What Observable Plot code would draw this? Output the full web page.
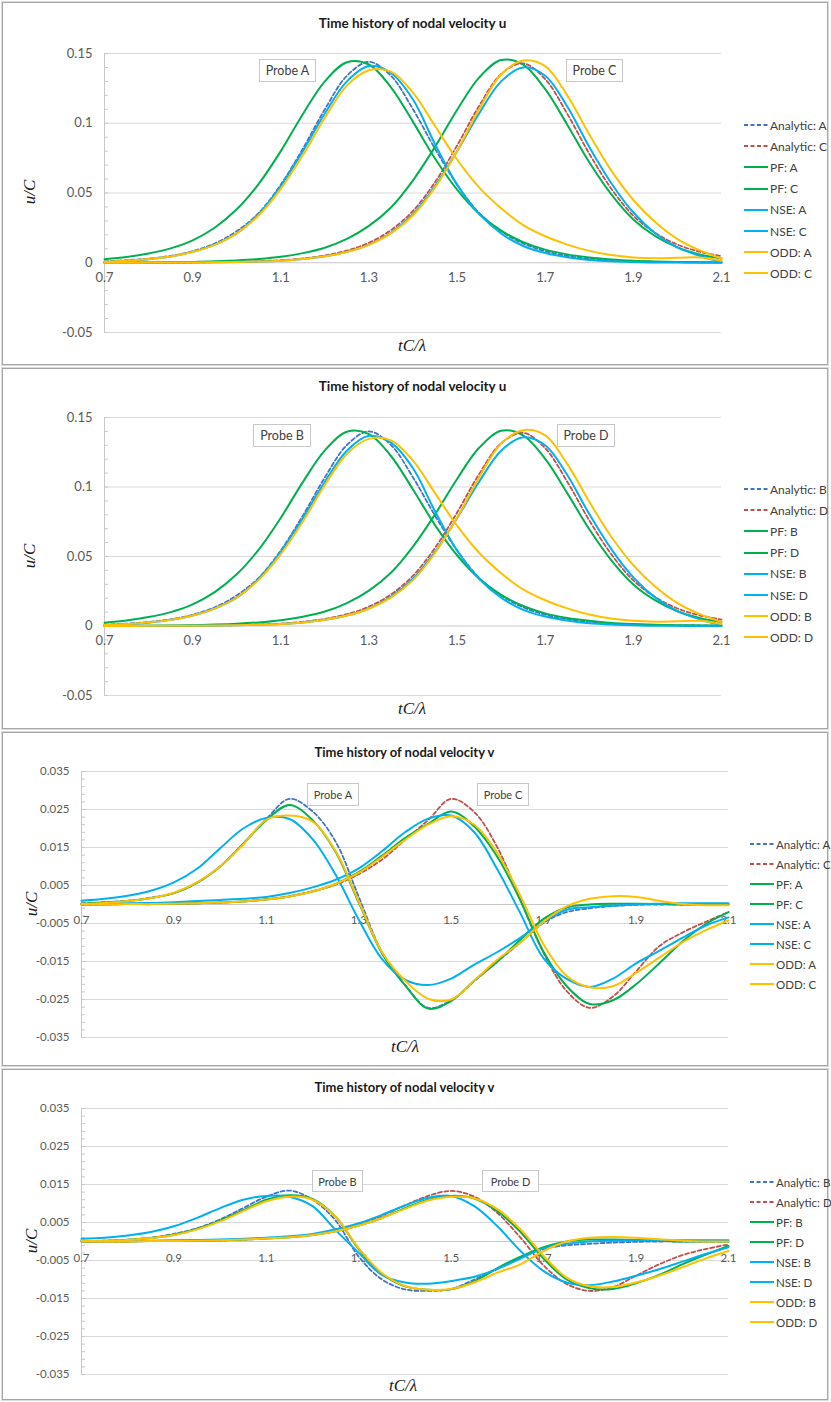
<!DOCTYPE html>
<html>
<head>
<meta charset="utf-8">
<script src="https://cdn.jsdelivr.net/npm/d3@7"></script>
<script src="https://cdn.jsdelivr.net/npm/@observablehq/plot@0.6"></script>
<style>
  html,body{margin:0;padding:0;background:#fff;}
  body{width:831px;height:1402px;position:relative;overflow:hidden;font-family:Lato,"Open Sans",sans-serif;}
  .panel{position:absolute;left:2px;width:824px;border:1px solid #a6a6a6;box-shadow:0 0 0 1px #dcdcdc;background:#fff;}
  .panel > svg.plot{position:absolute;left:0;top:0;}
  .title{position:absolute;font-weight:bold;color:#1a1a1a;transform:translate(-50%,-50%);white-space:nowrap;}
  .probe{position:absolute;border:1px solid #c8c8c8;background:#fff;color:#404040;display:flex;align-items:center;justify-content:center;box-sizing:border-box;white-space:nowrap;}
  .axlab{position:absolute;font-family:"Liberation Serif","DejaVu Serif",serif;font-style:italic;font-size:17px;color:#1a1a1a;white-space:nowrap;}
  .leg{position:absolute;display:flex;align-items:center;height:14px;transform:translateY(-50%);color:#404040;white-space:nowrap;}
  .leg svg{margin-right:2px;}
</style>
</head>
<body>
<script>
// ---------- shared axes ----------
const xs = [0.70,0.75,0.80,0.85,0.90,0.95,1.00,1.05,1.10,1.15,1.20,1.25,1.30,1.35,1.40,1.45,1.50,1.55,1.60,1.65,1.70,1.75,1.80,1.85,1.90,1.95,2.00,2.05,2.10];
const xTicks = [0.7,0.9,1.1,1.3,1.5,1.7,1.9,2.1];
const uTicks = [-0.05,0,0.05,0.1,0.15];
const uGrid = [-0.05,0.05,0.1,0.15];
const uMinor = d3.range(-50,151,10).map(d => d/1000);
const vTicks = [-0.035,-0.025,-0.015,-0.005,0.005,0.015,0.025,0.035];
const vMinor = d3.range(-35,36,2).map(d => d/1000);

// ---------- panel 1: u at probes A and C ----------
const u_analytic_A = [0.0010,0.0018,0.0030,0.0049,0.0083,0.0138,0.0226,0.0357,0.0560,0.0817,0.1100,0.1340,0.1440,0.1340,0.1100,0.0817,0.0560,0.0357,0.0226,0.0138,0.0083,0.0049,0.0030,0.0018,0.0010,0.0007,0.0005,0.0004,0.0003];
const u_analytic_C = [0.0000,0.0000,0.0001,0.0001,0.0002,0.0004,0.0006,0.0011,0.0018,0.0031,0.0052,0.0087,0.0143,0.0234,0.0372,0.0578,0.0840,0.1124,0.1353,0.1429,0.1316,0.1068,0.0782,0.0531,0.0337,0.0213,0.0130,0.0079,0.0047];
const u_pf_A = [0.0025,0.0041,0.0066,0.0103,0.0161,0.0251,0.0383,0.0566,0.0800,0.1065,0.1300,0.1437,0.1421,0.1258,0.1010,0.0747,0.0524,0.0352,0.0230,0.0148,0.0094,0.0060,0.0038,0.0023,0.0014,0.0009,0.0006,0.0004,0.0002];
const u_pf_C = [0.0001,0.0002,0.0002,0.0004,0.0006,0.0010,0.0017,0.0027,0.0043,0.0069,0.0108,0.0171,0.0264,0.0396,0.0591,0.0831,0.1095,0.1327,0.1453,0.1420,0.1244,0.0990,0.0720,0.0490,0.0310,0.0190,0.0110,0.0060,0.0030];
const u_nse_A = [0.0005,0.0012,0.0025,0.0045,0.0078,0.0130,0.0210,0.0350,0.0550,0.0800,0.1070,0.1300,0.1410,0.1360,0.1170,0.0850,0.0560,0.0350,0.0210,0.0120,0.0070,0.0040,0.0020,0.0010,0.0005,0.0002,0.0001,0.0000,0.0000];
const u_nse_C = [0.0000,0.0000,0.0001,0.0001,0.0002,0.0003,0.0005,0.0009,0.0015,0.0027,0.0046,0.0078,0.0130,0.0215,0.0350,0.0550,0.0800,0.1070,0.1300,0.1400,0.1340,0.1120,0.0830,0.0570,0.0360,0.0210,0.0110,0.0050,0.0005];
const u_odd_A = [0.0008,0.0015,0.0027,0.0045,0.0077,0.0128,0.0210,0.0340,0.0530,0.0770,0.1040,0.1270,0.1380,0.1370,0.1220,0.0980,0.0740,0.0540,0.0390,0.0270,0.0190,0.0130,0.0085,0.0055,0.0038,0.0032,0.0035,0.0038,0.0015];
const u_odd_C = [0.0000,0.0000,0.0001,0.0001,0.0002,0.0003,0.0005,0.0009,0.0015,0.0027,0.0046,0.0077,0.0128,0.0210,0.0340,0.0540,0.0800,0.1100,0.1350,0.1450,0.1410,0.1200,0.0920,0.0660,0.0450,0.0290,0.0170,0.0090,0.0030];

// ---------- panel 2: u at probes B and D ----------
const u_analytic_B = [0.0010,0.0017,0.0029,0.0048,0.0081,0.0134,0.0220,0.0347,0.0544,0.0794,0.1069,0.1302,0.1400,0.1302,0.1069,0.0794,0.0544,0.0347,0.0220,0.0134,0.0081,0.0048,0.0029,0.0017,0.0010,0.0007,0.0005,0.0004,0.0003];
const u_analytic_D = [0.0000,0.0000,0.0001,0.0001,0.0002,0.0004,0.0006,0.0011,0.0017,0.0030,0.0051,0.0085,0.0139,0.0227,0.0362,0.0562,0.0816,0.1093,0.1315,0.1389,0.1279,0.1038,0.0760,0.0516,0.0328,0.0207,0.0126,0.0077,0.0046];
const u_pf_B = [0.0024,0.0040,0.0064,0.0100,0.0156,0.0244,0.0372,0.0550,0.0778,0.1035,0.1264,0.1397,0.1381,0.1223,0.0982,0.0726,0.0509,0.0342,0.0224,0.0144,0.0091,0.0058,0.0037,0.0022,0.0014,0.0009,0.0006,0.0004,0.0002];
const u_pf_D = [0.0001,0.0002,0.0002,0.0004,0.0006,0.0010,0.0016,0.0026,0.0042,0.0067,0.0104,0.0165,0.0255,0.0383,0.0571,0.0803,0.1058,0.1282,0.1404,0.1372,0.1202,0.0956,0.0696,0.0473,0.0299,0.0184,0.0106,0.0058,0.0029];
const u_nse_B = [0.0005,0.0012,0.0024,0.0044,0.0076,0.0126,0.0204,0.0340,0.0534,0.0776,0.1038,0.1261,0.1368,0.1319,0.1135,0.0825,0.0543,0.0340,0.0204,0.0116,0.0068,0.0039,0.0019,0.0010,0.0005,0.0002,0.0001,0.0000,0.0000];
const u_nse_D = [0.0000,0.0000,0.0001,0.0001,0.0002,0.0003,0.0005,0.0009,0.0015,0.0026,0.0045,0.0076,0.0126,0.0209,0.0340,0.0534,0.0776,0.1038,0.1261,0.1358,0.1300,0.1086,0.0805,0.0553,0.0349,0.0204,0.0107,0.0049,0.0005];
const u_odd_B = [0.0008,0.0015,0.0026,0.0044,0.0075,0.0125,0.0205,0.0332,0.0517,0.0751,0.1014,0.1238,0.1346,0.1336,0.1190,0.0956,0.0722,0.0527,0.0380,0.0263,0.0185,0.0127,0.0083,0.0054,0.0037,0.0031,0.0034,0.0037,0.0015];
const u_odd_D = [0.0000,0.0000,0.0001,0.0001,0.0002,0.0003,0.0005,0.0009,0.0015,0.0026,0.0045,0.0075,0.0124,0.0204,0.0330,0.0525,0.0778,0.1069,0.1312,0.1409,0.1371,0.1166,0.0894,0.0642,0.0437,0.0282,0.0165,0.0087,0.0029];

// ---------- panel 3: v at probes A and C ----------
const v_analytic_A = [0.0003,0.0006,0.0010,0.0018,0.0030,0.0058,0.0100,0.0160,0.0225,0.0278,0.0245,0.0165,0.0020,-0.0125,-0.0212,-0.0272,-0.0252,-0.0202,-0.0150,-0.0100,-0.0048,-0.0020,-0.0010,-0.0004,-0.0001,0.0000,0.0000,0.0000,0.0000];
const v_analytic_C = [0.0000,0.0000,0.0001,0.0001,0.0002,0.0003,0.0005,0.0008,0.0014,0.0022,0.0035,0.0052,0.0080,0.0118,0.0170,0.0222,0.0278,0.0243,0.0150,0.0011,-0.0128,-0.0228,-0.0272,-0.0242,-0.0176,-0.0110,-0.0074,-0.0046,-0.0020];
const v_pf_A = [0.0002,0.0005,0.0009,0.0017,0.0030,0.0057,0.0100,0.0160,0.0222,0.0262,0.0222,0.0138,0.0005,-0.0128,-0.0212,-0.0274,-0.0254,-0.0200,-0.0150,-0.0092,-0.0038,-0.0008,0.0000,0.0002,0.0002,0.0001,0.0000,0.0000,0.0000];
const v_pf_C = [0.0000,0.0000,0.0001,0.0001,0.0002,0.0003,0.0005,0.0008,0.0013,0.0021,0.0034,0.0054,0.0085,0.0128,0.0175,0.0212,0.0245,0.0205,0.0125,0.0010,-0.0125,-0.0215,-0.0262,-0.0252,-0.0210,-0.0155,-0.0098,-0.0052,-0.0020];
const v_nse_A = [0.0010,0.0015,0.0023,0.0036,0.0058,0.0094,0.0148,0.0200,0.0228,0.0225,0.0172,0.0078,-0.0040,-0.0143,-0.0198,-0.0212,-0.0195,-0.0158,-0.0125,-0.0087,-0.0045,-0.0014,-0.0007,-0.0003,0.0000,0.0002,0.0003,0.0003,0.0003];
const v_nse_C = [0.0001,0.0002,0.0003,0.0004,0.0006,0.0009,0.0012,0.0015,0.0020,0.0030,0.0045,0.0065,0.0095,0.0140,0.0190,0.0226,0.0234,0.0190,0.0092,-0.0024,-0.0142,-0.0196,-0.0217,-0.0195,-0.0155,-0.0122,-0.0088,-0.0056,-0.0034];
const v_odd_A = [0.0001,0.0004,0.0009,0.0017,0.0031,0.0058,0.0100,0.0158,0.0223,0.0234,0.0218,0.0140,0.0008,-0.0125,-0.0200,-0.0248,-0.0250,-0.0200,-0.0145,-0.0100,-0.0045,-0.0005,0.0015,0.0022,0.0020,0.0010,0.0001,-0.0002,-0.0002];
const v_odd_C = [0.0000,0.0000,0.0001,0.0001,0.0002,0.0003,0.0005,0.0008,0.0013,0.0021,0.0034,0.0054,0.0083,0.0125,0.0170,0.0210,0.0232,0.0210,0.0135,0.0022,-0.0105,-0.0188,-0.0218,-0.0215,-0.0180,-0.0140,-0.0100,-0.0068,-0.0042];

// ---------- panel 4: v at probes B and D ----------
const v_analytic_B = [0.0001,0.0002,0.0005,0.0010,0.0020,0.0035,0.0058,0.0088,0.0118,0.0134,0.0110,0.0055,-0.0040,-0.0100,-0.0126,-0.0130,-0.0125,-0.0100,-0.0072,-0.0042,-0.0020,-0.0010,-0.0006,-0.0003,-0.0001,0.0000,0.0000,0.0000,0.0000];
const v_analytic_D = [0.0000,0.0000,0.0000,0.0001,0.0001,0.0002,0.0003,0.0005,0.0008,0.0012,0.0018,0.0028,0.0045,0.0068,0.0095,0.0120,0.0133,0.0118,0.0075,0.0010,-0.0063,-0.0112,-0.0130,-0.0120,-0.0090,-0.0060,-0.0036,-0.0020,-0.0008];
const v_pf_B = [0.0001,0.0002,0.0004,0.0009,0.0018,0.0033,0.0055,0.0082,0.0110,0.0122,0.0112,0.0065,-0.0020,-0.0085,-0.0118,-0.0127,-0.0126,-0.0105,-0.0070,-0.0040,-0.0015,0.0000,0.0005,0.0005,0.0004,0.0002,0.0000,0.0000,0.0000];
const v_pf_D = [0.0000,0.0000,0.0000,0.0001,0.0001,0.0002,0.0003,0.0005,0.0008,0.0011,0.0017,0.0027,0.0042,0.0062,0.0088,0.0110,0.0120,0.0113,0.0080,0.0025,-0.0045,-0.0100,-0.0123,-0.0125,-0.0110,-0.0088,-0.0060,-0.0035,-0.0012];
const v_nse_B = [0.0007,0.0010,0.0016,0.0025,0.0040,0.0062,0.0088,0.0110,0.0120,0.0118,0.0093,0.0030,-0.0030,-0.0088,-0.0108,-0.0111,-0.0104,-0.0093,-0.0072,-0.0045,-0.0018,-0.0006,0.0000,0.0002,0.0003,0.0003,0.0003,0.0003,0.0003];
const v_nse_D = [0.0000,0.0001,0.0001,0.0002,0.0003,0.0004,0.0005,0.0007,0.0010,0.0014,0.0020,0.0032,0.0048,0.0070,0.0095,0.0115,0.0120,0.0093,0.0040,-0.0025,-0.0078,-0.0108,-0.0115,-0.0105,-0.0090,-0.0073,-0.0053,-0.0033,-0.0015];
const v_odd_B = [0.0001,0.0002,0.0004,0.0009,0.0017,0.0032,0.0053,0.0080,0.0106,0.0118,0.0110,0.0065,-0.0018,-0.0083,-0.0117,-0.0127,-0.0125,-0.0108,-0.0082,-0.0060,-0.0025,0.0000,0.0010,0.0012,0.0010,0.0006,0.0002,0.0000,0.0000];
const v_odd_D = [0.0000,0.0000,0.0000,0.0001,0.0001,0.0002,0.0003,0.0005,0.0008,0.0011,0.0017,0.0027,0.0042,0.0062,0.0086,0.0108,0.0118,0.0114,0.0085,0.0032,-0.0038,-0.0095,-0.0118,-0.0120,-0.0108,-0.0090,-0.0068,-0.0045,-0.0025];

// ---------- styling of series ----------
const BLUE = "#4472C4", RED = "#C0504D", GREEN = "#00B050", CYAN = "#00B0F0", GOLD = "#FFC000";
function seriesList(p, q, vals) {
  return [
    {label: `Analytic: ${p}`, color: BLUE, dash: "4,2.5", values: vals[0]},
    {label: `Analytic: ${q}`, color: RED, dash: "4,2.5", values: vals[1]},
    {label: `PF: ${p}`, color: GREEN, values: vals[2]},
    {label: `PF: ${q}`, color: GREEN, values: vals[3]},
    {label: `NSE: ${p}`, color: CYAN, values: vals[4]},
    {label: `NSE: ${q}`, color: CYAN, values: vals[5]},
    {label: `ODD: ${p}`, color: GOLD, values: vals[6]},
    {label: `ODD: ${q}`, color: GOLD, values: vals[7]}
  ];
}

const panels = [
  {top: 2, h: 361, ml: 101, xr: 718, mt: 50, yb: 329, ydom: [-0.05, 0.15], ticks: uTicks, grid: uGrid, minor: uMinor,
   title: "Time history of nodal velocity u", titleY: 20, titleFs: 13.5, fs: 13, xdy: 15,
   legX: 741, legY: 122, legStep: 21.2, legFs: 12,
   ylab: [27, 189], xlab: [409, 343],
   probes: [["Probe A", 256, 56, 57, 23], ["Probe C", 563, 56, 57, 23]],
   series: seriesList("A", "C", [u_analytic_A, u_analytic_C, u_pf_A, u_pf_C, u_nse_A, u_nse_C, u_odd_A, u_odd_C])},
  {top: 368, h: 359, ml: 101, xr: 718, mt: 48, yb: 326, ydom: [-0.05, 0.15], ticks: uTicks, grid: uGrid, minor: uMinor,
   title: "Time history of nodal velocity u", titleY: 17, titleFs: 13.5, fs: 13, xdy: 15,
   legX: 741, legY: 120, legStep: 21.2, legFs: 12,
   ylab: [27, 187], xlab: [409, 340],
   probes: [["Probe B", 250, 55, 58, 23], ["Probe D", 554, 55, 58, 23]],
   series: seriesList("B", "D", [u_analytic_B, u_analytic_D, u_pf_B, u_pf_D, u_nse_B, u_nse_D, u_odd_B, u_odd_D])},
  {top: 732, h: 332, ml: 78, xr: 725, mt: 38, yb: 304, ydom: [-0.035, 0.035], ticks: vTicks, grid: vTicks, minor: vMinor,
   title: "Time history of nodal velocity v", titleY: 19, titleFs: 13, fs: 11.5, xdy: 16,
   legX: 747, legY: 111, legStep: 20, legFs: 11.5,
   ylab: [29, 171], xlab: [402, 314],
   probes: [["Probe A", 304, 50, 52, 23], ["Probe C", 474, 50, 52, 23]],
   series: seriesList("A", "C", [v_analytic_A, v_analytic_C, v_pf_A, v_pf_C, v_nse_A, v_nse_C, v_odd_A, v_odd_C])},
  {top: 1069, h: 329, ml: 78, xr: 725, mt: 38, yb: 304, ydom: [-0.035, 0.035], ticks: vTicks, grid: vTicks, minor: vMinor,
   title: "Time history of nodal velocity v", titleY: 17, titleFs: 13, fs: 11.5, xdy: 17,
   legX: 747, legY: 112, legStep: 20, legFs: 11.5,
   ylab: [29, 171], xlab: [400, 316],
   probes: [["Probe B", 309, 100, 51, 22], ["Probe D", 479, 100, 57, 22]],
   series: seriesList("B", "D", [v_analytic_B, v_analytic_D, v_pf_B, v_pf_D, v_nse_B, v_nse_D, v_odd_B, v_odd_D])}
];

const W = 824;
for (const cfg of panels) {
  const panel = document.createElement("div");
  panel.className = "panel";
  panel.style.top = cfg.top + "px";
  panel.style.height = cfg.h + "px";
  document.body.appendChild(panel);

  const lineMarks = cfg.series.map(s =>
    Plot.line(s.values.map((v, j) => ({x: xs[j], y: v})), {
      x: "x", y: "y", stroke: s.color,
      strokeWidth: s.dash ? 1.8 : 2,
      strokeDasharray: s.dash,
      curve: "catmull-rom"
    })
  );

  const svg = Plot.plot({
    width: W, height: cfg.h,
    marginLeft: cfg.ml, marginRight: W - cfg.xr, marginTop: cfg.mt, marginBottom: cfg.h - cfg.yb,
    x: {domain: [0.7, 2.1], axis: null},
    y: {domain: cfg.ydom, axis: null},
    style: {fontFamily: "Lato, 'Open Sans', sans-serif", fontSize: cfg.fs + "px", color: "#595959", background: "transparent", overflow: "visible"},
    marks: [
      Plot.ruleY(cfg.grid, {stroke: "#d9d9d9", strokeWidth: 1}),
      Plot.ruleY([0], {stroke: "#c8c8c8", strokeWidth: 1}),
      Plot.ruleX([0.7], {stroke: "#c8c8c8", strokeWidth: 1}),
      Plot.axisY({ticks: cfg.minor, tickSize: 4, dx: 4, tickFormat: () => "", stroke: "#c8c8c8", label: null}),
      Plot.axisY({ticks: cfg.ticks, tickSize: 0, tickPadding: 12, tickFormat: d => String(d), fill: "#595959", fontSize: cfg.fs, label: null}),
      Plot.text(xTicks, {x: d => d, y: () => 0, dy: cfg.xdy, text: d => d.toFixed(1), fill: "#595959", fontSize: cfg.fs}),
      ...lineMarks
    ]
  });
  svg.classList.add("plot");
  panel.appendChild(svg);

  // title
  const t = document.createElement("div");
  t.className = "title";
  t.textContent = cfg.title;
  t.style.left = ((cfg.ml + cfg.xr) / 2) + "px";
  t.style.top = cfg.titleY + "px";
  t.style.fontSize = cfg.titleFs + "px";
  panel.appendChild(t);

  // axis titles
  const yl = document.createElement("div");
  yl.className = "axlab";
  yl.textContent = "u/C";
  yl.style.left = cfg.ylab[0] + "px";
  yl.style.top = cfg.ylab[1] + "px";
  yl.style.transform = "translate(-50%,-50%) rotate(-90deg)";
  panel.appendChild(yl);

  const xl = document.createElement("div");
  xl.className = "axlab";
  xl.textContent = "tC/λ";
  xl.style.left = cfg.xlab[0] + "px";
  xl.style.top = cfg.xlab[1] + "px";
  xl.style.transform = "translate(-50%,-50%)";
  panel.appendChild(xl);

  // probe labels
  for (const [txt, l, tp, w, h] of cfg.probes) {
    const p = document.createElement("div");
    p.className = "probe";
    p.textContent = txt;
    p.style.cssText += `left:${l}px;top:${tp}px;width:${w}px;height:${h}px;font-size:${cfg.fs - 0.5}px;`;
    panel.appendChild(p);
  }

  // legend
  cfg.series.forEach((s, i) => {
    const d = document.createElement("div");
    d.className = "leg";
    d.style.left = cfg.legX + "px";
    d.style.top = (cfg.legY + cfg.legStep * i) + "px";
    d.style.fontSize = cfg.legFs + "px";
    d.innerHTML = `<svg width="24" height="4"><line x1="0" y1="2" x2="24" y2="2" stroke="${s.color}" stroke-width="2" ${s.dash ? `stroke-dasharray="${s.dash}"` : ""}/></svg><span>${s.label}</span>`;
    panel.appendChild(d);
  });
}
</script>
</body>
</html>
